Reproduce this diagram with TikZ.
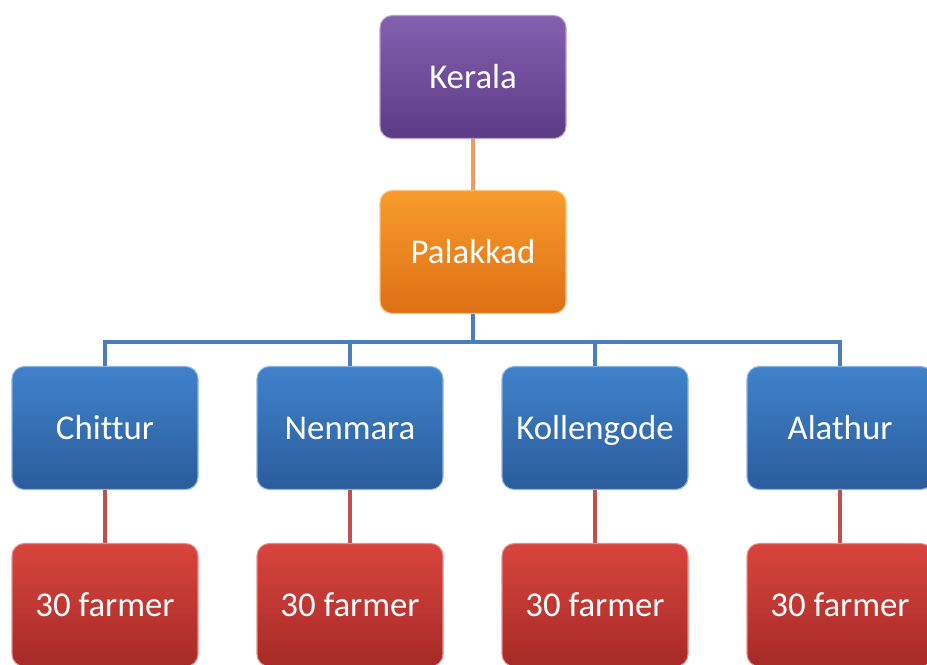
\documentclass[tikz,border=0pt]{standalone}
\usepackage{fontspec}
\setmainfont[Ligatures=NoCommon]{Carlito}
\usepackage{tikz}
\usetikzlibrary{positioning}

\definecolor{purpletop}{HTML}{8460B0}
\definecolor{purplebot}{HTML}{5C3B85}
\definecolor{orangetop}{HTML}{F99B2C}
\definecolor{orangebot}{HTML}{DD7016}
\definecolor{bluetop}{HTML}{4082CB}
\definecolor{bluebot}{HTML}{2A5C9C}
\definecolor{redtop}{HTML}{D9443E}
\definecolor{redbot}{HTML}{A62A26}
\definecolor{orangeline}{HTML}{F29A5C}
\definecolor{blueline}{HTML}{4A7EBB}
\definecolor{redline}{HTML}{C0504D}

\tikzset{
  box/.style={rounded corners=7pt, minimum width=3.72cm, minimum height=2.46cm,
    text=white, font=\fontsize{19.8}{23}\selectfont, text height=3.1ex, text depth=0.4ex,
    line width=0.6pt},
  purplebox/.style={box, top color=purpletop, bottom color=purplebot, draw=purpletop!60!white},
  orangebox/.style={box, top color=orangetop, bottom color=orangebot, draw=orangetop!60!white},
  bluebox/.style={box, top color=bluetop, bottom color=bluebot, draw=bluetop!60!white},
  redbox/.style={box, top color=redtop, bottom color=redbot, draw=redtop!60!white},
  link/.style={line width=1.8pt}
}

\begin{document}
\begin{tikzpicture}

% Page frame (same proportions as the original slide crop)
\useasboundingbox (0,0) rectangle (18.54,-13.28);
\clip (0,0) rectangle (18.54,-13.28);

% Top levels
\node[purplebox] (kerala) at (9.46,-1.54) {Kerala};
\node[orangebox] (palakkad) at (9.46,-5.04) {Palakkad};

% Taluks
\node[bluebox] (chittur) at (2.10,-8.56) {Chittur};
\node[bluebox] (nenmara) at (7.00,-8.56) {Nenmara};
\node[bluebox] (kollengode) at (11.90,-8.56) {Kollengode};
\node[bluebox] (alathur) at (16.80,-8.56) {Alathur};

% Farmers per taluk
\node[redbox] (farmA) at (2.10,-12.10) {30 farmer};
\node[redbox] (farmB) at (7.00,-12.10) {30 farmer};
\node[redbox] (farmC) at (11.90,-12.10) {30 farmer};
\node[redbox] (farmD) at (16.80,-12.10) {30 farmer};

% Connectors
\draw[link, orangeline] (kerala.south) -- (palakkad.north);

\coordinate (bar) at (0,-6.84);
\foreach \t in {chittur, nenmara, kollengode, alathur}
  \draw[link, blueline] (palakkad.south) -- (palakkad.south |- bar) -| (\t.north);

\draw[link, redline] (chittur.south) -- (farmA.north);
\draw[link, redline] (nenmara.south) -- (farmB.north);
\draw[link, redline] (kollengode.south) -- (farmC.north);
\draw[link, redline] (alathur.south) -- (farmD.north);

\end{tikzpicture}
\end{document}
